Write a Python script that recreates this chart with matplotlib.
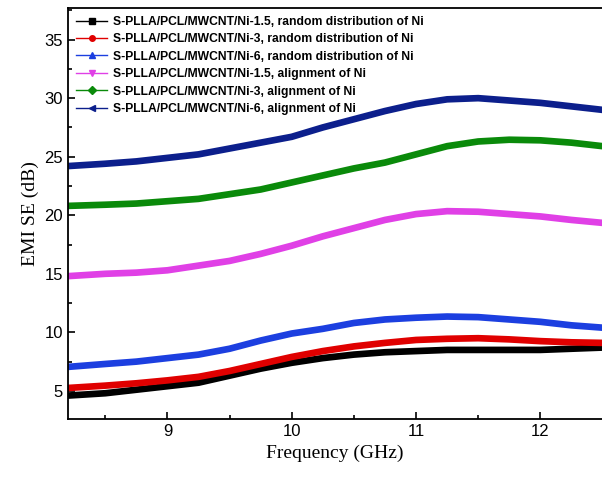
import numpy as np
import matplotlib.pyplot as plt
from matplotlib.ticker import MultipleLocator

# frequency grid (GHz) and EMI SE (dB)
freq = [8.2, 8.5, 8.75, 9.0, 9.25, 9.5, 9.75, 10.0, 10.25, 10.5, 10.75,
        11.0, 11.25, 11.5, 11.75, 12.0, 12.25, 12.5]

ni15_random = [4.6, 4.8, 5.1, 5.4, 5.7, 6.3, 6.9, 7.4, 7.8, 8.1, 8.3,
               8.4, 8.5, 8.5, 8.5, 8.5, 8.6, 8.7]
ni3_random = [5.25, 5.45, 5.65, 5.9, 6.2, 6.7, 7.3, 7.9, 8.4, 8.8, 9.1,
              9.35, 9.45, 9.5, 9.4, 9.25, 9.15, 9.1]
ni6_random = [7.05, 7.3, 7.5, 7.8, 8.1, 8.6, 9.3, 9.9, 10.3, 10.8, 11.1,
              11.25, 11.35, 11.3, 11.1, 10.9, 10.6, 10.4]
ni15_align = [14.8, 15.0, 15.1, 15.3, 15.7, 16.1, 16.7, 17.4, 18.2, 18.9, 19.6,
              20.1, 20.35, 20.3, 20.1, 19.9, 19.6, 19.35]
ni3_align = [20.8, 20.9, 21.0, 21.2, 21.4, 21.8, 22.2, 22.8, 23.4, 24.0, 24.5,
             25.2, 25.9, 26.3, 26.45, 26.4, 26.2, 25.9]
ni6_align = [24.2, 24.4, 24.6, 24.9, 25.2, 25.7, 26.2, 26.7, 27.5, 28.2, 28.9,
             29.5, 29.9, 30.0, 29.8, 29.6, 29.3, 29.0]

series = [ni15_random, ni3_random, ni6_random, ni15_align, ni3_align, ni6_align]
labels = [
    'S-PLLA/PCL/MWCNT/Ni-1.5, random distribution of Ni',
    'S-PLLA/PCL/MWCNT/Ni-3, random distribution of Ni',
    'S-PLLA/PCL/MWCNT/Ni-6, random distribution of Ni',
    'S-PLLA/PCL/MWCNT/Ni-1.5, alignment of Ni',
    'S-PLLA/PCL/MWCNT/Ni-3, alignment of Ni',
    'S-PLLA/PCL/MWCNT/Ni-6, alignment of Ni',
]
colors = ['#000000', '#e00000', '#1c3fe0', '#e040e6', '#0a8a0a', '#0c1f8c']
markers = ['s', 'o', '^', 'v', 'D', '<']

fig = plt.figure(figsize=(6.02, 4.79), dpi=100)
ax = fig.add_axes([68 / 602, 1 - 419 / 479, 534 / 602, 411 / 479])

for y, c in zip(series, colors):
    ax.plot(freq, y, color=c, lw=4.8, solid_capstyle='butt')

# legend proxies (thin line with marker)
for lab, c, m in zip(labels, colors, markers):
    ax.plot([], [], '-', color=c, lw=1, marker=m, ms=4, label=lab)

ax.set_xlim(8.2, 12.496)
ax.set_ylim(2.6, 37.7)
ax.xaxis.set_major_locator(MultipleLocator(1))
ax.xaxis.set_minor_locator(MultipleLocator(0.5))
ax.yaxis.set_major_locator(MultipleLocator(5))
ax.yaxis.set_minor_locator(MultipleLocator(2.5))
ax.tick_params(which='both', direction='in', top=False, right=False,
               width=1.2, labelsize=12)
ax.tick_params(which='major', length=5)
ax.tick_params(which='minor', length=3)
for lbl in ax.get_xticklabels() + ax.get_yticklabels():
    lbl.set_family('Liberation Sans')
ax.spines['right'].set_visible(False)
for s in ['left', 'bottom', 'top']:
    ax.spines[s].set_linewidth(1.3)

ax.set_xlabel('Frequency (GHz)', family='Liberation Serif', fontsize=14)
ax.set_ylabel('EMI SE (dB)', family='Liberation Serif', fontsize=14)

ax.legend(loc='upper left', frameon=False, handlelength=2.6,
          borderaxespad=0.25, labelspacing=0.45, handletextpad=0.45,
          prop={'family': 'Liberation Sans', 'weight': 'bold', 'size': 8.7})

fig.savefig('out.png', dpi=100)
